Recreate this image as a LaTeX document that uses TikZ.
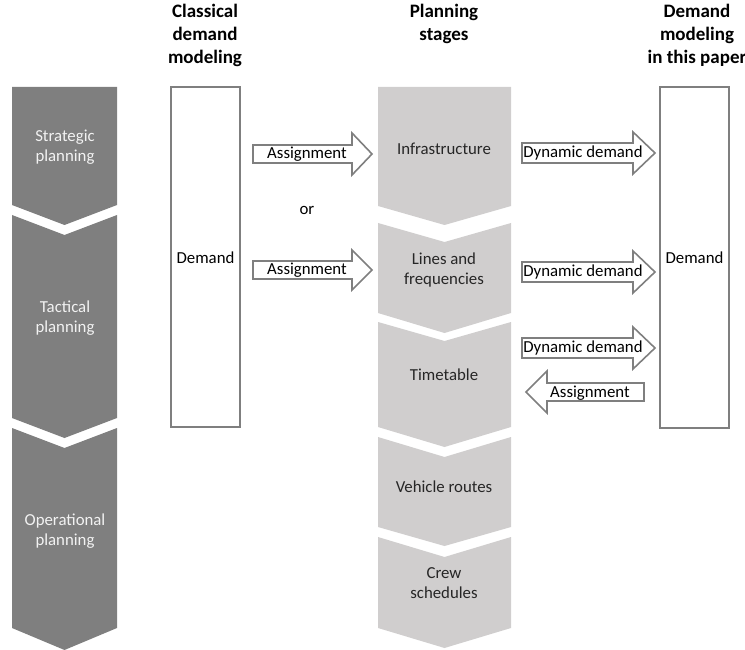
\documentclass[tikz,border=0pt]{standalone}
\usepackage{fontspec}
\setmainfont{Carlito}
\usetikzlibrary{calc}
\definecolor{stagedark}{RGB}{127,127,127}
\definecolor{stagelight}{RGB}{208,206,206}
\definecolor{framegray}{RGB}{127,127,127}
\definecolor{textdark}{RGB}{38,38,38}
\definecolor{textlight}{RGB}{242,242,242}

\begin{document}
\begin{tikzpicture}[x=1pt, y=-1pt,
		frame/.style={draw=framegray, line width=2pt},
		blockarrow/.style={draw=framegray, line width=1.6pt, fill=white, line join=miter},
		headtext/.style={inner sep=0pt, align=center, text=black, font=\fontsize{19}{23}\selectfont\bfseries},
		stagetext/.style={inner sep=0pt, align=center, text=textlight, font=\fontsize{16.8}{20}\selectfont},
		steptext/.style={inner sep=0pt, align=center, text=textdark, font=\fontsize{16.8}{20}\selectfont},
		arrowtext/.style={inner sep=0pt, text=black, font=\fontsize{16.8}{20}\selectfont}]
				\useasboundingbox (0,0) rectangle (745,650);
				
				% headers
				\node[headtext] (hclassic) at (205,35) {Classical\\demand\\modeling};
				\node[headtext] (hstages) at (444,23.5) {Planning\\stages};
				\node[headtext] (hpaper) at (697,35) {Demand\\modeling\\in this paper};
				
				% planning levels
				\fill[stagedark] (12,87) -- (117,87) -- (117,205) -- (64.5,225) -- (12,205) -- cycle;
				\fill[stagedark] (12,215) -- (64.5,235) -- (117,215) -- (117,418) -- (64.5,438) -- (12,418) -- cycle;
				\fill[stagedark] (12,428) -- (64.5,448) -- (117,428) -- (117,628) -- (64.5,650) -- (12,628) -- cycle;
				\node[stagetext] (strategic) at (65,147) {Strategic\\planning};
				\node[stagetext] (tactical) at (65,318) {Tactical\\planning};
				\node[stagetext] (operational) at (65,531) {Operational\\planning};
				
				% planning stages
				\fill[stagelight] (378,87) -- (511,87) -- (511,206) -- (444.5,225) -- (378,206) -- cycle;
				\fill[stagelight] (378,223) -- (444.5,242) -- (511,223) -- (511,313) -- (444.5,333) -- (378,313) -- cycle;
				\fill[stagelight] (378,322) -- (444.5,341) -- (511,322) -- (511,427) -- (444.5,447) -- (378,427) -- cycle;
				\fill[stagelight] (378,437) -- (444.5,457) -- (511,437) -- (511,527) -- (444.5,546) -- (378,527) -- cycle;
				\fill[stagelight] (378,537) -- (444.5,557) -- (511,537) -- (511,628) -- (444.5,648) -- (378,628) -- cycle;
				\node[steptext] (infra) at (444,149) {Infrastructure};
				\node[steptext] (lines) at (444,270) {Lines and\\frequencies};
				\node[steptext] (timetable) at (444,375) {Timetable};
				\node[steptext] (vehicles) at (444,487) {Vehicle routes};
				\node[steptext] (crew) at (444,583) {Crew\\schedules};
				
				% demand boxes
				\draw[frame] (171,87) rectangle (240,427);
				\node[steptext, text=black] (demandleft) at (205.5,258) {Demand};
				\draw[frame] (660,87) rectangle (729,428);
				\node[steptext, text=black] (demandright) at (694.5,258) {Demand};
				
				% assignment arrows
				\draw[blockarrow] (253,145) -- (352,145) -- (352,133) -- (372,154) -- (352,175) -- (352,163) -- (253,163) -- cycle;
				\node[arrowtext] (asgninfra) at (307,154) {Assignment};
				\node[steptext, text=black] (or) at (307,210) {or};
				\draw[blockarrow] (253,261) -- (352,261) -- (352,250) -- (372,270) -- (352,290) -- (352,279) -- (253,279) -- cycle;
				\node[arrowtext] (asgnlines) at (307,270) {Assignment};
				
				% dynamic demand arrows
				\draw[blockarrow] (522,143) -- (633,143) -- (633,132) -- (655,153) -- (633,174) -- (633,163) -- (522,163) -- cycle;
				\node[arrowtext] (dyninfra) at (583,153) {Dynamic demand};
				\draw[blockarrow] (522,262) -- (633,262) -- (633,251) -- (655,272) -- (633,293) -- (633,282) -- (522,282) -- cycle;
				\node[arrowtext] (dynlines) at (583,272) {Dynamic demand};
				\draw[blockarrow] (522,338) -- (633,338) -- (633,327) -- (655,348) -- (633,369) -- (633,358) -- (522,358) -- cycle;
				\node[arrowtext] (dyntimetable) at (583,348) {Dynamic demand};
				\draw[blockarrow] (644,383) -- (547,383) -- (547,371) -- (526,392) -- (547,413) -- (547,401) -- (644,401) -- cycle;
				\node[arrowtext] (asgntimetable) at (590,393) {Assignment};
			\end{tikzpicture}
\end{document}
